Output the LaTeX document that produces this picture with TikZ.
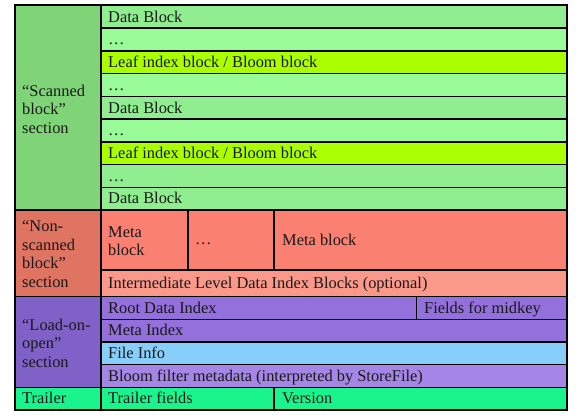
\documentclass[tikz,border=0pt]{standalone}
\usepackage{fontspec}
\setmainfont{Liberation Serif}
\definecolor{scanleft}{HTML}{80D478}
\definecolor{datab}{HTML}{90EE90}
\definecolor{dotsb}{HTML}{98FB98}
\definecolor{leafb}{HTML}{AAFF00}
\definecolor{nonleft}{HTML}{DF7462}
\definecolor{metab}{HTML}{FA8072}
\definecolor{interb}{HTML}{FA998A}
\definecolor{loadleft}{HTML}{8061C8}
\definecolor{purpb}{HTML}{9370DB}
\definecolor{infob}{HTML}{87CEFA}
\definecolor{bloomb}{HTML}{A586E6}
\definecolor{trailb}{HTML}{1AF48C}
\tikzset{
  cell/.style={draw=black, line width=1.5pt, fill=#1},
  lbl/.style={anchor=base west, inner sep=0pt, font=\fontsize{16.4}{18.5}\selectfont, text=black!90},
  sect/.style={anchor=west, inner sep=0pt, align=left, font=\fontsize{16.4}{18.5}\selectfont, text=black!90},
}
\begin{document}
\begin{tikzpicture}[x=1pt,y=-1pt]
\useasboundingbox (0,0) rectangle (582,419);
% left column
\path[cell=scanleft] (15,5.5) rectangle (101,210);
\path[cell=nonleft] (15,210) rectangle (101,296.5);
\path[cell=loadleft] (15,296.5) rectangle (101,387.3);
\path[cell=trailb] (15,387.3) rectangle (101,410);
\node[sect] (s1) at (22,109) {“Scanned\\block”\\section};
\node[sect] (s2) at (22,254) {“Non-\\scanned\\block”\\section};
\node[sect] (s3) at (22,343) {“Load-on-\\open”\\section};
\node[lbl] (s4) at (22,404) {Trailer};
% scanned rows
\path[cell=datab] (101,5.5) rectangle (567,28.2);
\path[cell=dotsb] (101,28.2) rectangle (567,50.9);
\path[cell=leafb] (101,50.9) rectangle (567,73.7);
\path[cell=dotsb] (101,73.7) rectangle (567,96.4);
\path[cell=datab] (101,96.4) rectangle (567,119.1);
\path[cell=dotsb] (101,119.1) rectangle (567,141.8);
\path[cell=leafb] (101,141.8) rectangle (567,164.5);
\path[cell=datab] (101,164.5) rectangle (567,187.3);
\path[cell=datab] (101,187.3) rectangle (567,210);
\node[lbl] (r1) at (108,22.3) {Data Block};
\node[lbl] (r2) at (108,45) {…};
\node[lbl] (r3) at (108,67.7) {Leaf index block / Bloom block};
\node[lbl] (r4) at (108,90.5) {…};
\node[lbl] (r5) at (108,113.2) {Data Block};
\node[lbl] (r6) at (108,135.9) {…};
\node[lbl] (r7) at (108,158.6) {Leaf index block / Bloom block};
\node[lbl] (r8) at (108,181.3) {…};
\node[lbl] (r9) at (108,204) {Data Block};
% non-scanned
\path[cell=metab] (101,210) rectangle (188,270);
\path[cell=metab] (188,210) rectangle (274,270);
\path[cell=metab] (274,210) rectangle (567,270);
\path[cell=interb] (101,270) rectangle (567,296.5);
\node[sect] (m1) at (108,241) {Meta\\block};
\node[lbl] (m2) at (195,245) {…};
\node[lbl] (m3) at (282,245.5) {Meta block};
\node[lbl] (m4) at (108,289) {Intermediate Level Data Index Blocks (optional)};
% load-on-open
\path[cell=purpb] (101,296.5) rectangle (416.5,319.3);
\path[cell=purpb] (416.5,296.5) rectangle (567,319.3);
\path[cell=purpb] (101,319.3) rectangle (567,342);
\path[cell=infob] (101,342) rectangle (567,364.7);
\path[cell=bloomb] (101,364.7) rectangle (567,387.3);
\node[lbl] (l1) at (108,313.3) {Root Data Index};
\node[lbl] (l2) at (424,313.3) {Fields for midkey};
\node[lbl] (l3) at (108,336) {Meta Index};
\node[lbl] (l4) at (108,358.7) {File Info};
\node[lbl] (l5) at (108,381.4) {Bloom filter metadata (interpreted by StoreFile)};
% trailer
\path[cell=trailb] (101,387.3) rectangle (274,410);
\path[cell=trailb] (274,387.3) rectangle (567,410);
\node[lbl] (t1) at (108,404) {Trailer fields};
\node[lbl] (t2) at (282,404) {Version};
% outer frame
\draw[line width=2pt] (15,5.5) rectangle (567,410);
\end{tikzpicture}
\end{document}
